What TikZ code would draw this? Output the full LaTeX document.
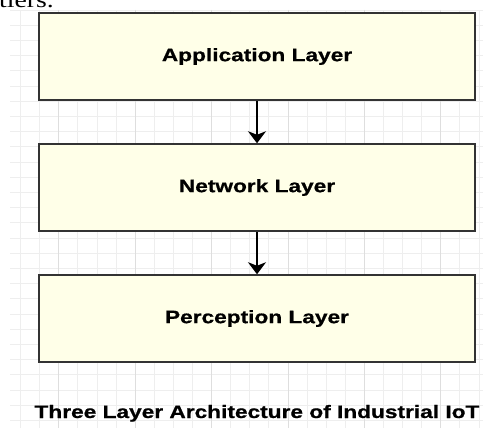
\documentclass[tikz,border=0pt]{standalone}
\usepackage{fontspec}
\usepackage{xcolor}
\usepackage{tikz}
\usetikzlibrary{arrows.meta, positioning}
\newfontfamily\labelfont[FakeStretch=1.26, BoldFeatures={FakeBold=0.8}]{Liberation Sans}
\newfontfamily\textwide[FakeStretch=1.26]{Liberation Serif}
\definecolor{layerfill}{RGB}{255,255,232}
\definecolor{layerline}{RGB}{51,51,51}
\definecolor{gridminor}{RGB}{238,238,238}
\definecolor{gridmajor}{RGB}{222,222,222}

\begin{document}
\begin{tikzpicture}[>=Stealth, x=1pt, y=-1pt,
    layer/.style={draw=layerline, fill=layerfill, line width=1.5pt,
        minimum width=436pt, minimum height=87pt, inner sep=0pt,
        font=\labelfont\bfseries\fontsize{18}{20}\selectfont},
    flow/.style={-{Stealth[length=12pt 0,width=18pt 0,inset=3.5pt 0]},
        line width=1.4pt, shorten <=0.75pt},
    gridline/.style={draw=gridminor, line width=0.8pt}]

    \useasboundingbox (0,0) rectangle (483,428);

    % Background grid
    \foreach \i in {0,...,24} {
        \draw[gridline] ({20.5+19.1*\i},10) -- ({20.5+19.1*\i},428);
    }
    \foreach \j in {0,...,27} {
        \draw[gridline] (10,{10+15.2*\j}) -- (483,{10+15.2*\j});
    }
    \foreach \i in {2,6,10,14,18,22} {
        \draw[gridline, draw=gridmajor] ({20.5+19.1*\i},10) -- ({20.5+19.1*\i},428);
    }

    % Text cut off above the picture
    \node[anchor=base west, inner sep=0pt, font=\textwide\fontsize{22}{24}\selectfont] (tiers) at (-1,8) {tiers.};

    % Layers
    \node[layer] (app) at (257,56.5) {Application Layer};
    \node[layer] (net) at (257,187.5) {Network Layer};
    \node[layer] (per) at (257,318.5) {Perception Layer};

    % Arrows between layers
    \draw[flow] (app) -- (net);
    \draw[flow] (net) -- (per);

    % Caption
    \node[anchor=base, inner sep=0pt, font=\labelfont\bfseries\fontsize{18}{20}\selectfont] (caption) at (257,418) {Three Layer Architecture of Industrial IoT};
\end{tikzpicture}
\end{document}
